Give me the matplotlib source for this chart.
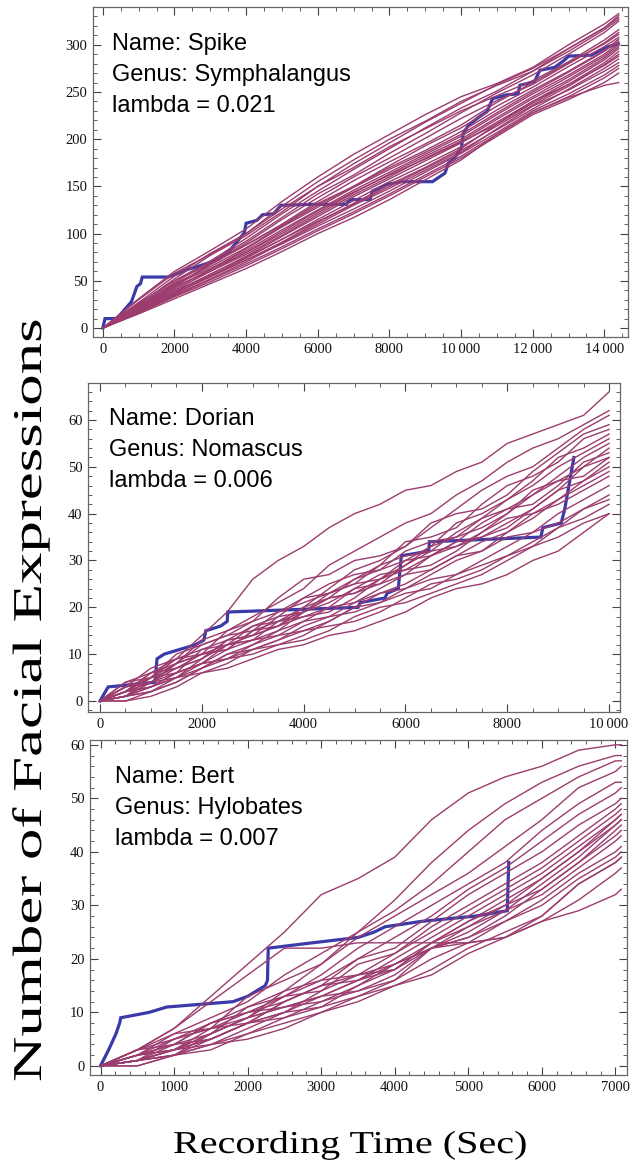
import matplotlib
matplotlib.use("Agg")
import matplotlib.pyplot as plt
from matplotlib.ticker import MultipleLocator, FuncFormatter
from matplotlib.patheffects import AbstractPathEffect
from matplotlib.transforms import Affine2D

SIM_COLOR = "#9c3c6e"
OBS_COLOR = "#3a3aa8"
SERIF = "Liberation Serif"
SANS = "Liberation Sans"

# ---------------- Spike (Symphalangus), lambda = 0.021 ----------------
spike_times = [0, 1000, 2000, 3000, 4000, 5000, 6000, 7000, 8000, 9000,
               10000, 11000, 12000, 13000, 14000, 14400]
spike_sims = [
    [0, 31, 60, 82, 105, 134, 160, 184, 205, 226, 245, 259, 276, 300, 322, 333],
    [0, 27, 55, 79, 100, 129, 155, 178, 200, 219, 240, 257, 272, 296, 318, 331],
    [0, 25, 52, 77, 98, 123, 150, 174, 196, 218, 238, 258, 275, 296, 318, 329],
    [0, 26, 50, 71, 95, 121, 145, 168, 190, 212, 233, 251, 272, 293, 316, 327],
    [0, 23, 48, 70, 92, 117, 142, 162, 185, 206, 228, 249, 268, 290, 313, 325],
    [0, 30, 58, 78, 100, 126, 150, 170, 192, 211, 230, 246, 262, 282, 305, 316],
    [0, 22, 45, 68, 90, 115, 138, 160, 180, 201, 222, 241, 258, 280, 302, 313],
    [0, 25, 50, 68, 88, 110, 134, 156, 176, 195, 215, 239, 260, 281, 301, 311],
    [0, 24, 47, 65, 85, 108, 130, 150, 172, 193, 212, 235, 255, 277, 298, 308],
    [0, 21, 44, 67, 88, 109, 132, 150, 170, 188, 208, 231, 252, 272, 294, 306],
    [0, 20, 42, 62, 84, 107, 128, 149, 168, 186, 205, 228, 250, 271, 293, 304],
    [0, 24, 46, 63, 82, 104, 125, 146, 165, 184, 203, 226, 248, 268, 290, 302],
    [0, 19, 40, 60, 80, 100, 122, 143, 163, 182, 200, 223, 245, 266, 288, 300],
    [0, 22, 44, 60, 78, 98, 120, 141, 160, 180, 198, 221, 243, 263, 286, 298],
    [0, 18, 38, 57, 76, 97, 118, 139, 158, 177, 196, 218, 240, 261, 284, 296],
    [0, 21, 42, 62, 80, 102, 124, 144, 162, 179, 197, 216, 238, 258, 281, 293],
    [0, 17, 36, 55, 74, 94, 115, 135, 155, 173, 192, 214, 236, 256, 279, 290],
    [0, 20, 40, 55, 72, 91, 112, 132, 152, 170, 190, 216, 240, 258, 278, 288],
    [0, 19, 38, 57, 75, 94, 113, 131, 150, 169, 188, 210, 232, 253, 275, 285],
    [0, 17, 35, 52, 70, 90, 110, 130, 148, 167, 186, 211, 235, 252, 272, 281],
    [0, 18, 37, 54, 72, 89, 108, 126, 145, 165, 185, 207, 230, 248, 268, 278],
    [0, 16, 34, 51, 68, 86, 105, 123, 142, 162, 182, 205, 228, 245, 265, 275],
    [0, 16, 33, 49, 66, 84, 103, 121, 140, 160, 180, 203, 226, 242, 260, 270],
    [0, 15, 31, 47, 63, 81, 100, 117, 136, 157, 178, 205, 228, 244, 257, 260],
]
spike_obs_times = [0, 60, 390, 800, 950, 1050, 1100, 1810, 2120, 2270, 2630, 3030,
                   3240, 3540, 3950, 4000, 4300, 4460, 4770, 4970, 5890, 6800,
                   6900, 7460, 7520, 7920, 8330, 9200, 9550, 9650, 9800, 10010,
                   10060, 10210, 10520, 10720, 10880, 11280, 11590, 11640, 12050,
                   12200, 12610, 12860, 13010, 13630, 14030, 14390]
spike_obs_counts = [0, 10, 10, 28, 44, 47, 54, 54, 58, 61, 65, 70,
                    73, 82, 101, 111, 114, 120, 121, 130, 131, 131,
                    136, 136, 145, 152, 155, 155, 164, 175, 179, 191,
                    206, 215, 224, 229, 243, 247, 248, 257, 261,
                    273, 276, 283, 288, 289, 297, 301]

# ---------------- Dorian (Nomascus), lambda = 0.006 ----------------
dorian_times = [0, 500, 1000, 1500, 2000, 2500, 3000, 3500, 4000, 4500, 5000,
                5500, 6000, 6500, 7000, 7500, 8000, 8500, 9000, 9500, 10000]
dorian_sims = [
    [0, 2, 6, 9, 14, 19, 26, 30, 33, 37, 40, 42, 45, 46, 49, 51, 55, 57, 59, 61, 66],
    [0, 4, 6, 8, 13, 15, 18, 21, 24, 29, 32, 35, 38, 40, 44, 47, 51, 54, 56, 59, 62],
    [0, 1, 5, 8, 10, 15, 17, 22, 26, 27, 30, 31, 33, 37, 41, 45, 48, 50, 54, 58, 61],
    [0, 3, 4, 7, 9, 13, 16, 17, 20, 24, 28, 30, 33, 38, 40, 41, 44, 49, 53, 57, 59],
    [0, 2, 5, 10, 12, 14, 15, 19, 22, 23, 26, 29, 34, 35, 37, 42, 46, 48, 51, 56, 58],
    [0, 1, 3, 5, 9, 12, 16, 18, 19, 22, 26, 28, 30, 33, 38, 40, 43, 47, 52, 54, 57],
    [0, 3, 7, 9, 11, 12, 14, 18, 22, 25, 27, 28, 32, 34, 35, 39, 43, 46, 50, 53, 56],
    [0, 2, 4, 8, 12, 14, 17, 19, 21, 23, 25, 29, 31, 32, 36, 39, 41, 44, 48, 52, 55],
    [0, 1, 2, 5, 8, 12, 13, 15, 19, 22, 23, 25, 29, 33, 35, 37, 40, 45, 47, 50, 54],
    [0, 4, 5, 7, 10, 11, 15, 17, 18, 20, 24, 27, 28, 31, 34, 38, 41, 42, 46, 51, 53],
    [0, 2, 6, 7, 9, 13, 14, 16, 20, 22, 23, 26, 30, 31, 33, 36, 40, 44, 47, 48, 52],
    [0, 1, 4, 8, 10, 11, 13, 17, 19, 21, 24, 25, 27, 31, 34, 35, 38, 41, 45, 50, 52],
    [0, 3, 5, 6, 8, 11, 15, 16, 18, 19, 22, 26, 28, 29, 32, 36, 39, 40, 43, 47, 51],
    [0, 2, 3, 6, 11, 13, 14, 16, 19, 23, 25, 26, 29, 32, 33, 35, 37, 41, 45, 47, 50],
    [0, 1, 4, 5, 7, 10, 12, 15, 17, 18, 21, 24, 27, 28, 31, 34, 36, 39, 43, 46, 49],
    [0, 2, 5, 9, 10, 12, 13, 14, 17, 20, 21, 23, 25, 28, 31, 32, 36, 40, 42, 45, 48],
    [0, 0, 2, 4, 7, 9, 12, 14, 15, 17, 20, 23, 24, 27, 30, 32, 35, 36, 40, 43, 46],
    [0, 3, 4, 6, 8, 9, 11, 13, 16, 18, 19, 21, 24, 26, 27, 30, 33, 36, 38, 41, 44],
    [0, 1, 2, 4, 7, 10, 11, 12, 14, 17, 20, 21, 23, 24, 27, 29, 31, 34, 37, 41, 43],
    [0, 2, 3, 5, 6, 8, 11, 13, 15, 16, 17, 19, 22, 25, 26, 28, 31, 33, 37, 39, 42],
    [0, 1, 3, 6, 8, 9, 10, 12, 13, 15, 18, 20, 21, 23, 25, 27, 30, 33, 35, 38, 40],
    [0, 0, 1, 3, 6, 7, 9, 11, 12, 14, 15, 17, 19, 22, 24, 25, 27, 30, 32, 36, 40],
]
dorian_obs_times = [0, 160, 1080, 1120, 1260, 1870, 2040, 2080, 2370, 2500, 2510,
                    5070, 5110, 5600, 5640, 5860, 5920, 6460, 6470, 8660, 8700,
                    9060, 9130, 9310]
dorian_obs_counts = [0, 3, 4, 9, 10, 12, 13, 15, 16, 17, 19,
                     20, 21, 22, 23, 24, 31, 32, 34, 35, 37,
                     38, 41, 52]

# ---------------- Bert (Hylobates), lambda = 0.007 ----------------
bert_times = [0, 500, 1000, 1500, 2000, 2500, 3000, 3500, 4000, 4500, 5000,
              5500, 6000, 6500, 7000, 7080]
bert_sims = [
    [0, 3, 7, 13, 19, 25, 32, 35, 39, 46, 51, 54, 56, 59, 60, 60],
    [0, 1, 4, 8, 11, 14, 19, 25, 31, 38, 44, 49, 53, 56, 58, 58],
    [0, 2, 6, 9, 12, 17, 21, 25, 29, 34, 40, 46, 50, 54, 57, 57],
    [0, 3, 5, 7, 13, 16, 19, 24, 28, 32, 36, 41, 46, 52, 55, 56],
    [0, 1, 3, 7, 10, 13, 17, 22, 26, 30, 34, 38, 44, 49, 53, 53],
    [0, 2, 4, 6, 9, 14, 16, 20, 24, 28, 33, 37, 42, 47, 51, 52],
    [0, 1, 5, 8, 10, 12, 15, 20, 22, 27, 32, 36, 40, 45, 49, 50],
    [0, 2, 3, 6, 11, 13, 14, 17, 21, 26, 30, 34, 38, 43, 48, 49],
    [0, 3, 4, 5, 8, 10, 14, 19, 21, 25, 29, 33, 37, 42, 47, 48],
    [0, 1, 2, 6, 9, 11, 13, 16, 20, 24, 28, 32, 36, 41, 46, 47],
    [0, 2, 5, 7, 8, 12, 15, 17, 18, 23, 27, 31, 35, 40, 46, 47],
    [0, 1, 3, 4, 7, 10, 11, 15, 19, 23, 26, 30, 35, 40, 45, 46],
    [0, 2, 4, 8, 10, 11, 13, 14, 17, 22, 25, 29, 34, 39, 45, 46],
    [0, 1, 2, 5, 8, 12, 15, 16, 18, 23, 27, 30, 33, 38, 44, 45],
    [0, 3, 6, 7, 9, 11, 12, 15, 18, 22, 24, 28, 33, 38, 43, 44],
    [0, 0, 2, 4, 6, 9, 12, 14, 16, 22, 26, 29, 32, 37, 42, 43],
    [0, 1, 3, 5, 8, 9, 11, 13, 16, 20, 23, 27, 31, 36, 40, 41],
    [0, 2, 3, 6, 9, 13, 16, 17, 19, 22, 24, 27, 30, 35, 39, 40],
    [0, 1, 2, 3, 6, 8, 10, 12, 15, 18, 22, 25, 28, 34, 38, 39],
    [0, 3, 7, 12, 17, 22, 22, 23, 23, 23, 23, 24, 28, 34, 38, 39],
    [0, 0, 2, 4, 5, 7, 10, 13, 15, 17, 21, 24, 27, 31, 36, 37],
    [0, 1, 3, 5, 8, 10, 13, 16, 19, 22, 23, 24, 27, 29, 32, 33],
]
bert_obs_times = [0, 110, 210, 260, 275, 660, 900, 1800, 2000, 2240, 2270, 2280,
                  2880, 3500, 3720, 3870, 4360, 5100, 5530, 5550]
bert_obs_counts = [0, 3, 6, 8, 9, 10, 11, 12, 13, 15, 16, 22,
                   23, 24, 25, 26, 27, 28, 29, 38]


class Stretch(AbstractPathEffect):
    """Stretch text along its baseline (the original labels are drawn wide)."""

    def __init__(self, sx):
        super().__init__()
        self.sx = sx

    def draw_path(self, renderer, gc, tpath, affine, rgbFace=None):
        renderer.draw_path(gc, tpath, Affine2D().scale(self.sx, 1.0) + affine, rgbFace)


def thousands(v, pos):
    v = int(round(v))
    if v >= 10000:
        return "{}\u2009{:03d}".format(v // 1000, v % 1000)
    return str(v)


def draw_panel(ax, times, sims, obs_t, obs_n, xlim, ylim, xticks, yticks):
    ax.plot(obs_t, obs_n, color=OBS_COLOR, lw=2.3, zorder=1, solid_joinstyle="miter")
    for s in sims:
        ax.plot(times, s, color=SIM_COLOR, lw=1.0, zorder=2)
    ax.set_xlim(*xlim)
    ax.set_ylim(*ylim)

    ax.xaxis.set_major_locator(MultipleLocator(xticks[0]))
    ax.xaxis.set_minor_locator(MultipleLocator(xticks[1]))
    ax.yaxis.set_major_locator(MultipleLocator(yticks[0]))
    ax.yaxis.set_minor_locator(MultipleLocator(yticks[1]))
    ax.xaxis.set_major_formatter(FuncFormatter(thousands))

    ax.tick_params(which="both", direction="in", top=True, right=True,
                   color="#444444", labelsize=10.5, labelcolor="#111111")
    ax.tick_params(which="major", length=6, width=0.8, pad=4)
    ax.tick_params(which="minor", length=3, width=0.6)
    for lab in ax.get_xticklabels() + ax.get_yticklabels():
        lab.set_family(SERIF)
    for sp in ax.spines.values():
        sp.set_color("#666666")
        sp.set_linewidth(0.9)


def px(x, y):
    # figure fraction from pixel position (origin top-left)
    return x / 630, 1 - y / 1162


fig = plt.figure(figsize=(6.3, 11.62), dpi=100)

ax1 = fig.add_axes([93 / 630, 1 - 337 / 1162, 535 / 630, 330 / 1162])
ax2 = fig.add_axes([88 / 630, 1 - 712 / 1162, 532 / 630, 329 / 1162])
ax3 = fig.add_axes([90 / 630, 1 - 1075 / 1162, 537 / 630, 335 / 1162])

draw_panel(ax1, spike_times, spike_sims, spike_obs_times, spike_obs_counts,
           (-275, 14660), (-9.5, 340), (2000, 500), (50, 10))
draw_panel(ax2, dorian_times, dorian_sims, dorian_obs_times, dorian_obs_counts,
           (-235, 10215), (-2.35, 67.9), (2000, 500), (10, 2))
draw_panel(ax3, bert_times, bert_sims, bert_obs_times, bert_obs_counts,
           (-143, 7158), (-1.7, 60.9), (1000, 200), (10, 2))

# info boxes
info = [
    ((112, 50), ["Name: Spike", "Genus: Symphalangus", "lambda = 0.021"]),
    ((109, 425), ["Name: Dorian", "Genus: Nomascus", "lambda = 0.006"]),
    ((115, 783), ["Name: Bert", "Genus: Hylobates", "lambda = 0.007"]),
]
for (x0, y0), lines in info:
    for i, line in enumerate(lines):
        fx, fy = px(x0, y0 + i * 30.8)
        fig.text(fx, fy, line, family=SANS, fontsize=17, ha="left", va="baseline")

# axis titles (drawn wide, like the original)
fx, fy = px(41, 1082)
ylab = fig.text(fx, fy, "Number of Facial Expressions", family=SERIF, fontsize=29.5,
                rotation=90, rotation_mode="anchor", ha="left", va="baseline")
fx, fy = px(173, 1153)
xlab = fig.text(fx, fy, "Recording Time (Sec)", family=SERIF, fontsize=23,
                ha="left", va="baseline")

fig.canvas.draw()
ylab.set_path_effects([Stretch(764 / ylab.get_window_extent().height)])
xlab.set_path_effects([Stretch(355 / xlab.get_window_extent().width)])

fig.savefig("out.png", dpi=100)
